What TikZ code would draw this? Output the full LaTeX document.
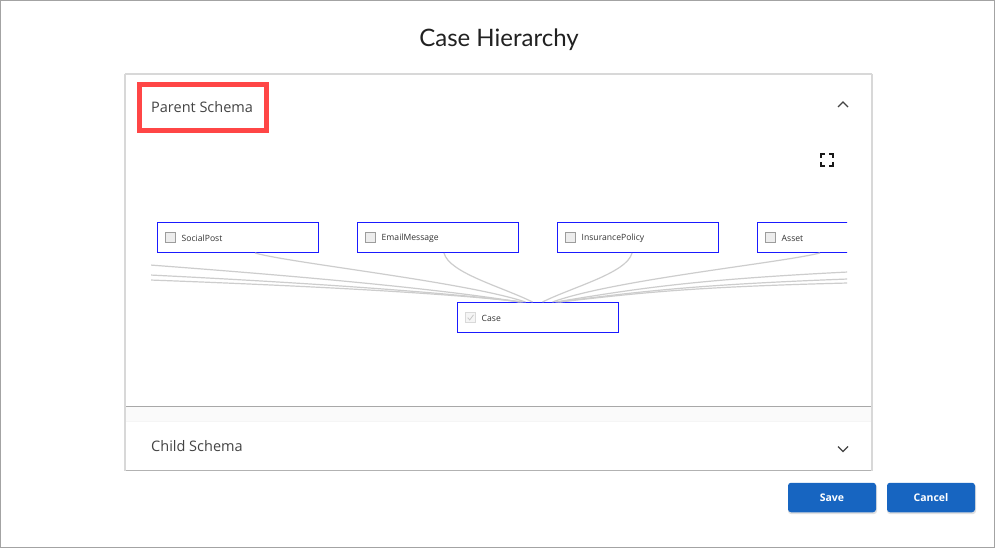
\documentclass[tikz,border=0pt]{standalone}
\usepackage{fontspec}
\setmainfont{Open Sans}
\newfontfamily\titlefont{Lato}
\usetikzlibrary{calc}
\definecolor{nodeblue}{HTML}{1A1AFF}
\definecolor{linkgray}{HTML}{CDCDCD}
\definecolor{btnblue}{HTML}{1765C1}
\definecolor{cardedge}{HTML}{D8D8D8}
\definecolor{cardbottom}{HTML}{A8A8A8}
\definecolor{bandgray}{HTML}{FAFAFA}
\definecolor{textgray}{HTML}{444444}
\definecolor{framegray}{HTML}{A3A3A3}
\definecolor{redmark}{HTML}{FF4646}
\definecolor{cbedge}{HTML}{9C9C9C}
\definecolor{cbfill}{HTML}{EDEDED}
\tikzset{
  nodebox/.style={draw=nodeblue, line width=1pt, minimum width=161pt, minimum height=30pt, inner sep=0pt},
  cbox/.style={draw=cbedge, fill=cbfill, line width=0.9pt, minimum size=9.5pt, inner sep=0pt},
  cboxoff/.style={draw=black!15, fill=black!4, line width=0.9pt, minimum size=9.5pt, inner sep=0pt},
  lbl/.style={anchor=west, inner sep=0pt, font=\fontsize{8.6}{10}\selectfont, text=black!80},
  link/.style={draw=linkgray, line width=1.2pt},
  heading/.style={anchor=west, inner sep=0pt, font=\fontsize{14.5}{16}\selectfont, text=textgray},
  chevron/.style={draw=textgray, line width=1.3pt},
  btn/.style={fill=btnblue, rounded corners=3pt, minimum width=88pt, minimum height=29.5pt, inner sep=0pt, text=white, font=\bfseries\fontsize{10.5}{12}\selectfont}
}
\begin{document}
\begin{tikzpicture}[x=1pt,y=-1pt]
\useasboundingbox (0,0) rectangle (995,548);
\fill[white] (0,0) rectangle (995,548);
\draw[framegray, line width=1.2pt] (0.6,0.6) rectangle (994.4,547.4);

% title
\node[font=\titlefont\fontsize{24}{28}\selectfont, text=black!87] (title) at (499,40) {Case Hierarchy};

% cards
\fill[white] (126,75) rectangle (871,406);
\fill[bandgray] (126,407) rectangle (871,420.5);
\fill[white] (126,421) rectangle (871,469.5);
\draw[cardbottom, line width=1pt] (126,406.5) -- (871,406.5);
\draw[black!30, line width=1pt] (126,470) -- (871,470);
\draw[black!4, line width=0.6pt] (126,420.8) -- (871,420.8);
\draw[cardedge, line width=2.2pt] (125,74) -- (872,74);
\draw[cardedge, line width=2pt] (125,74) -- (125,470.5);
\draw[cardedge, line width=2pt] (872,74) -- (872,470.5);

% header of parent panel
\node[heading] (ps) at (151,107.5) {Parent Schema};
\draw[redmark, line width=5pt] (139.5,84.5) rectangle (266.5,130.5);
\coordinate (chu) at (843,104.5);
\draw[chevron] ($(chu)+(-5,2.5)$) -- ($(chu)+(0,-2.5)$) -- ($(chu)+(5,2.5)$);

% expand icon
\coordinate (ex) at (827,160);
\begin{scope}[line width=2pt, black!90]
\draw ($(ex)+(-6,-2)$) -- ($(ex)+(-6,-6)$) -- ($(ex)+(-2,-6)$);
\draw ($(ex)+(2,-6)$) -- ($(ex)+(6,-6)$) -- ($(ex)+(6,-2)$);
\draw ($(ex)+(6,2)$) -- ($(ex)+(6,6)$) -- ($(ex)+(2,6)$);
\draw ($(ex)+(-2,6)$) -- ($(ex)+(-6,6)$) -- ($(ex)+(-6,2)$);
\end{scope}

% graph viewport
\begin{scope}
\clip (151,150) rectangle (847,400);
\node[nodebox] (sp) at (237.5,237.5) {};
\node[nodebox] (em) at (437.5,237.5) {};
\node[nodebox] (ip) at (637.5,237.5) {};
\node[nodebox] (as) at (837.5,237.5) {};
\node[nodebox] (case) at (537.5,317.5) {};

\coordinate (l1) at (150,265);
\coordinate (l2) at (150,275);
\coordinate (l3) at (150,280);
\coordinate (r1) at (848,272);
\coordinate (r2) at (848,279);
\coordinate (r3) at (848,283);

\draw[link] (l1) .. controls +(160,12) and +(-80,-13) .. ($(case.north)+(-18,0)$);
\draw[link] (l2) .. controls +(160,8) and +(-80,-10) .. ($(case.north)+(-16,0)$);
\draw[link] (l3) .. controls +(160,6) and +(-80,-9) .. ($(case.north)+(-14,0)$);
\draw[link] (r1) .. controls +(-160,8) and +(80,-13) .. ($(case.north)+(18,0)$);
\draw[link] (r2) .. controls +(-160,6) and +(80,-10) .. ($(case.north)+(20,0)$);
\draw[link] (r3) .. controls +(-160,4) and +(80,-9) .. ($(case.north)+(22,0)$);
\draw[link] ($(sp.south)+(17.5,0)$) .. controls +(35,10) and +(-60,-20) .. ($(case.north)+(-12,0)$);
\draw[link] ($(em.south)+(6.5,0)$) .. controls +(5,20) and +(-30,-15) .. ($(case.north)+(-5,0)$);
\draw[link] ($(ip.south)+(-5.5,0)$) .. controls +(-5,20) and +(30,-15) .. ($(case.north)+(5,0)$);
\draw[link] ($(as.south)+(-17.5,0)$) .. controls +(-40,10) and +(60,-22) .. ($(case.north)+(15,0)$);

\node[cbox] (spcb) at ($(sp.west)+(14,0)$) {};
\node[lbl] (spt) at ($(sp.west)+(25,0.5)$) {SocialPost};
\node[cbox] (emcb) at ($(em.west)+(14,0)$) {};
\node[lbl] (emt) at ($(em.west)+(25,0.5)$) {EmailMessage};
\node[cbox] (ipcb) at ($(ip.west)+(14,0)$) {};
\node[lbl] (ipt) at ($(ip.west)+(25,0.5)$) {InsurancePolicy};
\node[cbox] (ascb) at ($(as.west)+(14,0)$) {};
\node[lbl] (ast) at ($(as.west)+(25,0.5)$) {Asset};
\node[cboxoff] (cacb) at ($(case.west)+(14,0)$) {};
\draw[black!22, line width=0.8pt] ($(cacb)+(-2.8,0.2)$) -- ($(cacb)+(-0.8,2.4)$) -- ($(cacb)+(3,-2.6)$);
\node[lbl] (cat) at ($(case.west)+(25,0.5)$) {Case};
\end{scope}

% child panel header
\node[heading] (cs) at (151,446) {Child Schema};
\coordinate (chd) at (843,449);
\draw[chevron] ($(chd)+(-5,-2.5)$) -- ($(chd)+(0,2.5)$) -- ($(chd)+(5,-2.5)$);

% buttons
\fill[black!12, rounded corners=3pt] (788,484) rectangle (877,514);
\fill[black!12, rounded corners=3pt] (887,484) rectangle (976,514);
\node[btn] (save) at (832,497.5) {Save};
\node[btn] (cancel) at (931,497.5) {Cancel};
\end{tikzpicture}
\end{document}
